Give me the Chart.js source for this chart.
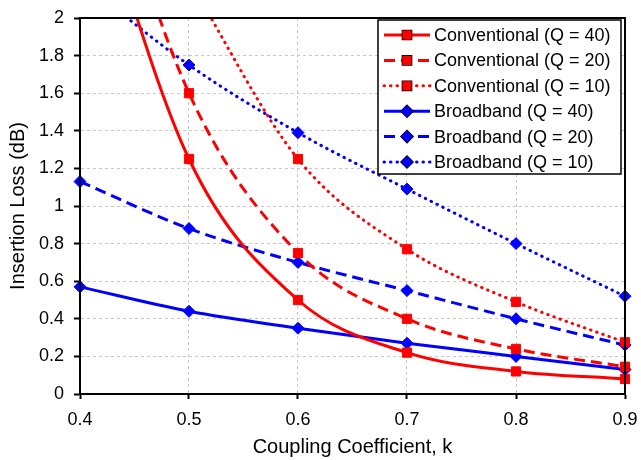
<!DOCTYPE html>
<html>
<head>
<meta charset="utf-8">
<script src="https://cdn.jsdelivr.net/npm/chart.js@4"></script>
<style>
  html, body { margin: 0; padding: 0; background: #fff; }
  #wrap { width: 641px; height: 460px; }
</style>
</head>
<body>
<div id="wrap"><canvas id="lossChart" width="641" height="460"></canvas></div>
<script>
// Coupling coefficient values on the x axis
const kValues = [0.4, 0.5, 0.6, 0.7, 0.8, 0.9];

// Insertion loss (dB); values above 2 dB fall outside the axis
const convQ40 = [2.95, 1.25, 0.5, 0.22, 0.12, 0.08];
const convQ20 = [3.3, 1.6, 0.75, 0.4, 0.24, 0.145];
const convQ10 = [null, 2.2, 1.25, 0.77, 0.49, 0.275];
const bbQ40 = [0.57, 0.44, 0.35, 0.27, 0.2, 0.13];
const bbQ20 = [1.13, 0.88, 0.7, 0.55, 0.4, 0.26];
const bbQ10 = [2.2, 1.75, 1.39, 1.09, 0.8, 0.52];

const seriesNames = [
  'Conventional (Q = 40)', 'Conventional (Q = 20)', 'Conventional (Q = 10)',
  'Broadband (Q = 40)', 'Broadband (Q = 20)', 'Broadband (Q = 10)'
];

const FONT = "'Liberation Sans', Arial, sans-serif";
const RED = '#ff0000';
const BLUE = '#0000ff';
const SOLID = [];
const DASH = [11, 6];
const DOT = [0.5, 6];

function toPoints(values) {
  return values.map((v, i) => ({ x: kValues[i], y: v }));
}

function makeSeries(label, values, color, dash, shape) {
  return {
    label: label,
    data: toPoints(values),
    borderColor: color,
    backgroundColor: color,
    borderWidth: 3,
    borderDash: dash,
    borderCapStyle: dash === DOT ? 'round' : 'butt',
    pointStyle: shape,
    pointRadius: shape === 'rect' ? 6.5 : 6,
    pointBorderWidth: 1,
    pointBorderColor: color,
    pointBackgroundColor: color,
    cubicInterpolationMode: 'monotone',
    clip: { left: 10, right: 10, top: 0, bottom: 10 },
    spanGaps: true
  };
}

// Plot frame and legend box drawn inside the plot, top right
const insideLegend = {
  id: 'insideLegend',
  afterDatasetsDraw(chart) {
    const ctx = chart.ctx;
    const area = chart.chartArea;
    ctx.save();
    ctx.strokeStyle = '#000';
    ctx.lineWidth = 2;
    ctx.strokeRect(area.left, area.top, area.right - area.left, area.bottom - area.top);

    const boxX = 378, boxY = 20, boxW = 243, boxH = 154;
    ctx.fillStyle = '#fff';
    ctx.fillRect(boxX, boxY, boxW, boxH);
    ctx.lineWidth = 1.5;
    ctx.strokeRect(boxX, boxY, boxW, boxH);

    ctx.font = '18px ' + FONT;
    ctx.textBaseline = 'middle';
    chart.data.datasets.forEach((ds, i) => {
      const y = boxY + 15 + i * 25.4;
      ctx.save();
      ctx.strokeStyle = ds.borderColor;
      ctx.lineWidth = 3;
      ctx.setLineDash(ds.borderDash);
      ctx.lineCap = ds.borderCapStyle;
      ctx.beginPath();
      ctx.moveTo(384, y);
      ctx.lineTo(430, y);
      ctx.stroke();
      ctx.restore();
      Chart.helpers.drawPoint(ctx, {
        pointStyle: ds.pointStyle,
        radius: ds.pointRadius,
        borderWidth: 1,
        rotation: 0
      }, 407, y);
      ctx.fillStyle = ds.borderColor;
      ctx.fill();
      ctx.fillStyle = '#000';
      ctx.fillText(ds.label, 434, y + 1);
    });
    ctx.restore();
  }
};

new Chart(document.getElementById('lossChart').getContext('2d'), {
  type: 'line',
  data: {
    datasets: [
      makeSeries(seriesNames[0], convQ40, RED, SOLID, 'rect'),
      makeSeries(seriesNames[1], convQ20, RED, DASH, 'rect'),
      makeSeries(seriesNames[2], convQ10, RED, DOT, 'rect'),
      makeSeries(seriesNames[3], bbQ40, BLUE, SOLID, 'rectRot'),
      makeSeries(seriesNames[4], bbQ20, BLUE, DASH, 'rectRot'),
      makeSeries(seriesNames[5], bbQ10, BLUE, DOT, 'rectRot')
    ]
  },
  options: {
    responsive: false,
    animation: false,
    layout: { padding: 0 },
    plugins: {
      legend: { display: false },
      tooltip: { enabled: false }
    },
    scales: {
      x: {
        type: 'linear',
        min: 0.4,
        max: 0.9,
        afterFit: s => { s.height = 66; s.paddingLeft = 0; s.paddingRight = 16; },
        ticks: {
          stepSize: 0.1,
          color: '#000',
          font: { family: FONT, size: 18 },
          padding: 10,
          callback: v => v.toFixed(1)
        },
        grid: { color: '#c8c8c8', tickColor: '#000', tickLength: 5, tickWidth: 2, lineWidth: 1 },
        border: { color: '#000', width: 2, dash: [3, 3] },
        title: {
          display: true,
          text: 'Coupling Coefficient, k',
          color: '#000',
          font: { family: FONT, size: 20 },
          padding: { top: 0, bottom: 1 }
        }
      },
      y: {
        min: 0,
        max: 2,
        afterFit: s => { s.width = 80; s.paddingTop = 18; s.paddingBottom = 0; },
        ticks: {
          stepSize: 0.2,
          color: '#000',
          font: { family: FONT, size: 18 },
          padding: 10,
          callback: v => Number(v.toFixed(1)).toString()
        },
        grid: { color: '#c8c8c8', tickColor: '#000', tickLength: 6, tickWidth: 2, lineWidth: 1 },
        border: { color: '#000', width: 2, dash: [3, 3] },
        title: {
          display: true,
          text: 'Insertion Loss (dB)',
          color: '#000',
          font: { family: FONT, size: 20 },
          padding: { top: 6, bottom: 0 }
        }
      }
    }
  },
  plugins: [insideLegend]
});
</script>
</body>
</html>
